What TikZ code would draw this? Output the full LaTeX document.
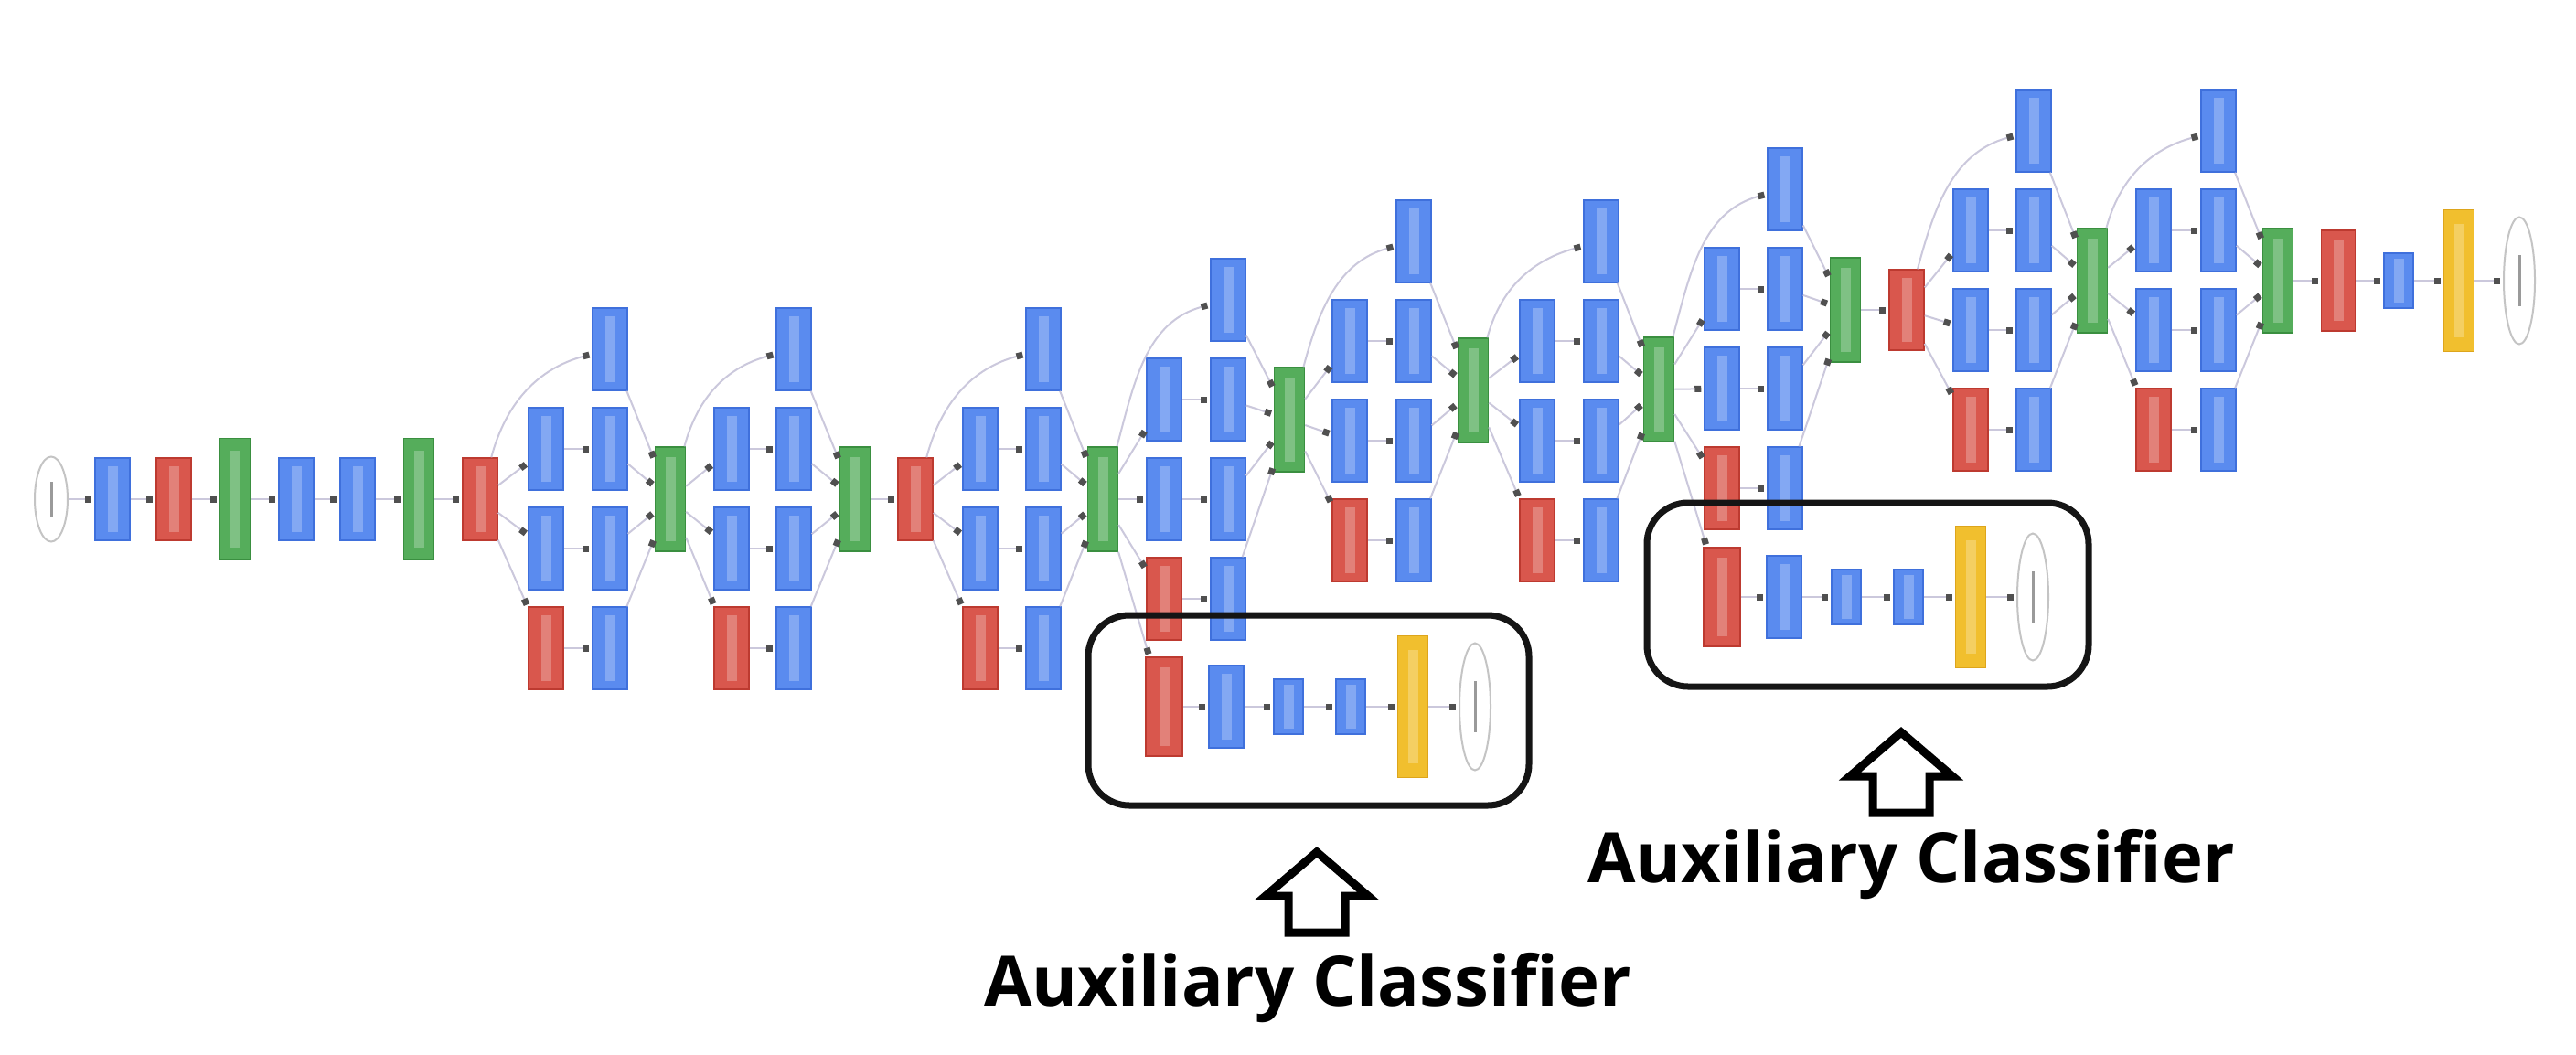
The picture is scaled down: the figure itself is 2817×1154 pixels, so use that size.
\documentclass[tikz,border=0pt]{standalone}
\usepackage{fontspec}
\usepackage{tikz}
\usetikzlibrary{arrows.meta,positioning,shapes.geometric,calc}
\newfontfamily\auxfont{Open Sans}
\definecolor{convfill}{HTML}{5A8BEF}
\definecolor{convline}{HTML}{3F70DC}
\definecolor{poolfill}{HTML}{D9574D}
\definecolor{poolline}{HTML}{BD3A30}
\definecolor{catfill}{HTML}{55AD5B}
\definecolor{catline}{HTML}{3A8F40}
\definecolor{softfill}{HTML}{F1BF2E}
\definecolor{softline}{HTML}{DDA51C}
\definecolor{ioline}{HTML}{C4C4C4}
\definecolor{iobar}{HTML}{9A9A9A}
\definecolor{linegray}{HTML}{CBC8DC}
\definecolor{tipgray}{HTML}{505050}
\definecolor{boxblack}{HTML}{151515}

\begin{document}
\begin{tikzpicture}[x=1pt,y=1pt,node distance=68pt,on grid,
    block/.style={rectangle,inner sep=0pt,minimum width=38pt,minimum height=90pt,line width=1.5pt,
      path picture={\draw[white,opacity=0.25,line width=11pt]
        ($(path picture bounding box.north)!0.1!(path picture bounding box.south)$) --
        ($(path picture bounding box.north)!0.9!(path picture bounding box.south)$);}},
    conv/.style={block,fill=convfill,draw=convline},
    fc/.style={conv,minimum width=32pt,minimum height=60pt},
    pool/.style={block,fill=poolfill,draw=poolline},
    auxpool/.style={pool,minimum width=40pt,minimum height=108pt},
    concat/.style={block,minimum width=33pt,minimum height=114pt,fill=catfill,draw=catline},
    lrn/.style={concat,minimum height=133pt},
    softmax/.style={block,minimum width=33pt,minimum height=155pt,fill=softfill,draw=softline},
    io/.style={ellipse,draw=ioline,fill=white,line width=2pt,inner sep=0pt,
      minimum width=34pt,minimum height=139pt,
      path picture={\draw[iobar,line width=3pt]
        ($(path picture bounding box.north)!0.3!(path picture bounding box.south)$) --
        ($(path picture bounding box.north)!0.7!(path picture bounding box.south)$);}},
    conn/.style={color=linegray,line width=2pt,shorten >=3pt,
      -{Square[length=7pt,width=7pt,color=tipgray]}},
    auxbox/.style={draw=boxblack,line width=7pt,rounded corners=45pt},
    bigarrow/.style={draw=black,fill=white,line width=9pt,line join=miter},
    auxlabel/.style={font=\auxfont\bfseries\fontsize{76}{80}\selectfont,anchor=base,inner sep=0pt}]

  \path[fill=white,use as bounding box] (0,0) rectangle (2817,-1154);

  % stem
  \node[io,minimum width=36pt,minimum height=93pt] (input) at (56,-546) {};
  \node[conv] (conv1) [right=67pt of input] {};
  \node[pool] (pool1) [right=67pt of conv1] {};
  \node[lrn]  (norm1) [right=67pt of pool1] {};
  \node[conv] (conv2) [right=67pt of norm1] {};
  \node[conv] (conv3) [right=67pt of conv2] {};
  \node[lrn]  (norm2) [right=67pt of conv3] {};
  \node[pool] (pool2) [right=67pt of norm2] {};
  \path[conn]
    (input) edge (conv1) (conv1) edge (pool1) (pool1) edge (norm1)
    (norm1) edge (conv2) (conv2) edge (conv3) (conv3) edge (norm2)
    (norm2) edge (pool2);

  \node[pool] (pool3) at (1001,-546) {};
  \node[pool,minimum height=88pt] (pool4) at (2085,-339) {};

  % inception modules: name/input/col1 x/col2 x/concat x/top row y/concat y
  \foreach \m/\i/\xa/\xb/\xc/\yr/\yc in {
      3a/pool2/597/667/733/382/546, 3b/c3a/800/868/935/382/546,
      4a/pool3/1072/1141/1206/382/546, 4b/c4a/1273/1343/1410/328/459,
      4c/c4b/1476/1546/1611/264/427, 4d/c4c/1681/1751/1814/264/426,
      4e/c4d/1883/1952/2018/207/339, 5a/pool4/2155/2224/2288/143/307,
      5b/c5a/2355/2426/2491/143/307} {
    \node[conv]   (\m-top) at (\xb,{-\yr}) {};
    \node[conv]   (\m-a1)  at (\xa,{-\yr-109}) {};
    \node[conv]   (\m-a2)  at (\xa,{-\yr-218}) {};
    \node[pool]   (\m-p)   at (\xa,{-\yr-327}) {};
    \node[conv]   (\m-b1)  at (\xb,{-\yr-109}) {};
    \node[conv]   (\m-b2)  at (\xb,{-\yr-218}) {};
    \node[conv]   (\m-b3)  at (\xb,{-\yr-327}) {};
    \node[concat] (c\m)    at (\xc,{-\yc}) {};
    \path[conn]
      (\i) edge [out=75,in=195] (\m-top)
      (\i) edge (\m-a1) (\i) edge (\m-a2) (\i) edge (\m-p)
      (\m-a1) edge (\m-b1) (\m-a2) edge (\m-b2) (\m-p) edge (\m-b3)
      (\m-top) edge (c\m) (\m-b1) edge (c\m) (\m-b2) edge (c\m) (\m-b3) edge (c\m);
  }
  \path[conn] (c3b) edge (pool3) (c4e) edge (pool4);

  % head
  \node[pool,minimum width=37pt,minimum height=110pt] (pool5) [right=66pt of c5b] {};
  \node[fc]      (fc)     [right=66pt of pool5] {};
  \node[softmax] (soft)   [right=66pt of fc] {};
  \node[io]      (output) [right=66pt of soft] {};
  \path[conn] (c5b) edge (pool5) (pool5) edge (fc) (fc) edge (soft) (soft) edge (output);

  % auxiliary classifiers
  \node[auxpool] (aux1-pool) at (1273,-773) {};
  \node[conv]    (aux1-conv) [right=of aux1-pool] {};
  \node[fc]      (aux1-fc1)  [right=of aux1-conv] {};
  \node[fc]      (aux1-fc2)  [right=of aux1-fc1] {};
  \node[softmax] (aux1-soft) [right=of aux1-fc2] {};
  \node[io]      (aux1-out)  [right=of aux1-soft] {};
  \node[auxpool] (aux2-pool) at (1883,-653) {};
  \node[conv]    (aux2-conv) [right=of aux2-pool] {};
  \node[fc]      (aux2-fc1)  [right=of aux2-conv] {};
  \node[fc]      (aux2-fc2)  [right=of aux2-fc1] {};
  \node[softmax] (aux2-soft) [right=of aux2-fc2] {};
  \node[io]      (aux2-out)  [right=of aux2-soft] {};
  \path[conn]
    (c4a) edge (aux1-pool) (aux1-pool) edge (aux1-conv) (aux1-conv) edge (aux1-fc1)
    (aux1-fc1) edge (aux1-fc2) (aux1-fc2) edge (aux1-soft) (aux1-soft) edge (aux1-out)
    (c4d) edge (aux2-pool) (aux2-pool) edge (aux2-conv) (aux2-conv) edge (aux2-fc1)
    (aux2-fc1) edge (aux2-fc2) (aux2-fc2) edge (aux2-soft) (aux2-soft) edge (aux2-out);

  \draw[auxbox] (1190,-673) rectangle (1672,-881);
  \draw[auxbox] (1801,-550) rectangle (2284,-751);

  \coordinate (tip1) at (1440,-932);
  \coordinate (tip2) at (2079,-801);
  \foreach \t in {tip1,tip2}
    \draw[bigarrow] (\t) -- ++(56,-48) -- ++(-25,0) -- ++(0,-40) -- ++(-62,0)
      -- ++(0,40) -- ++(-25,0) -- cycle;

  \node[auxlabel] (label1) at (1430,-1100) {Auxiliary Classifier};
  \node[auxlabel] (label2) at (2090,-965) {Auxiliary Classifier};
\end{tikzpicture}
\end{document}
